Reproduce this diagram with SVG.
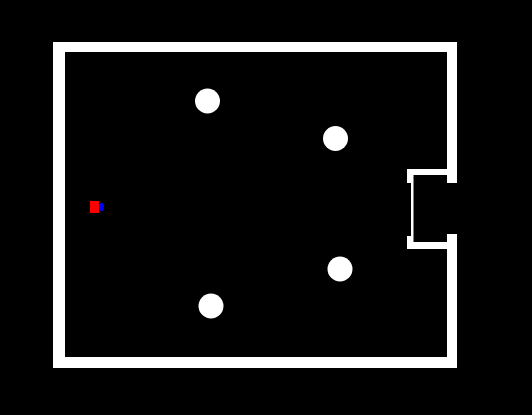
<svg xmlns="http://www.w3.org/2000/svg" width="532" height="415" viewBox="0 0 532 415">
<style>.w{fill:#fff}.o{fill:#fff}</style>
<rect x="0" y="0" width="532" height="415" fill="#000"/>
<g id="walls">
<rect class="w" x="53" y="42" width="404" height="10"/>
<rect class="w" x="53" y="357" width="404" height="11"/>
<rect class="w" x="53" y="42" width="12" height="326"/>
<rect class="w" x="447" y="42" width="10" height="141"/>
<rect class="w" x="447" y="234" width="10" height="134"/>
</g>
<g id="niche">
<rect class="w" x="407" y="169" width="41" height="6"/>
<rect class="w" x="407" y="242" width="41" height="7"/>
<rect class="w" x="407" y="169" width="6" height="14"/>
<rect class="w" x="407" y="236" width="6" height="13"/>
<rect class="w" x="411" y="175" width="2.5" height="68"/>
</g>
<g id="obstacles">
<circle class="o" cx="207.5" cy="101" r="12.5"/>
<circle class="o" cx="335.5" cy="138.5" r="12.5"/>
<circle class="o" cx="340" cy="269" r="12.5"/>
<circle class="o" cx="211" cy="306" r="12.5"/>
</g>
<g id="robot">
<rect x="99" y="203" width="5" height="8" rx="3" fill="#0000ff"/>
<rect x="90" y="201" width="9" height="12" fill="#ff0000"/>
</g>
</svg>
